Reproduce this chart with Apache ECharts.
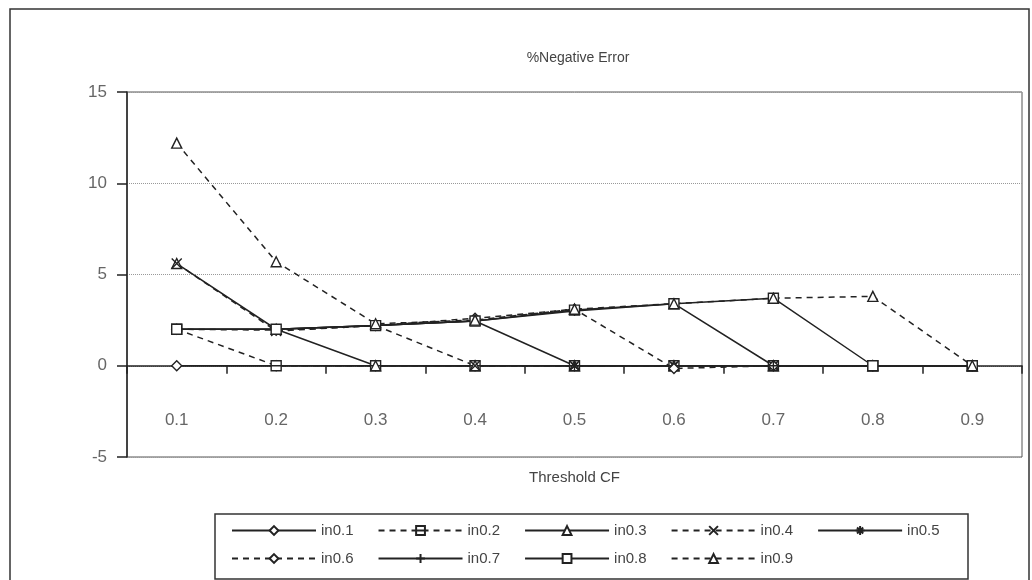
<!DOCTYPE html>
<html>
<head>
<meta charset="utf-8">
<style>
  html, body { margin: 0; padding: 0; background: #fff; }
  #chart { width: 1032px; height: 580px; }
</style>
<script src="https://cdn.jsdelivr.net/npm/echarts@6/dist/echarts.min.js"></script>
</head>
<body>
<div id="chart"></div>
<script>
// ---- data ----
const categories = ['0.1', '0.2', '0.3', '0.4', '0.5', '0.6', '0.7', '0.8', '0.9'];
const seriesNames = ['in0.1', 'in0.2', 'in0.3', 'in0.4', 'in0.5', 'in0.6', 'in0.7', 'in0.8', 'in0.9'];
const in01 = [0, 0, 0, 0, 0, 0, 0, 0, 0];
const in02 = [2.0, 0, 0, 0, 0, 0, 0, 0, 0];
const in03 = [5.6, 2.0, 0, 0, 0, 0, 0, 0, 0];
const in04 = [5.6, 1.9, 2.2, 0, 0, 0, 0, 0, 0];
const in05 = [2.0, 2.0, 2.2, 2.45, 0, 0, 0, 0, 0];
const in06 = [2.0, 1.95, 2.2, 2.6, 3.1, -0.15, 0, 0, 0];
const in07 = [2.0, 2.0, 2.2, 2.45, 3.0, 3.4, 0, 0, 0];
const in08 = [2.0, 2.0, 2.2, 2.45, 3.05, 3.4, 3.7, 0, 0];
const in09 = [12.2, 5.7, 2.3, 2.5, 3.1, 3.4, 3.7, 3.8, 0];
const yTicks = { min: -5, max: 15, interval: 5 };
const titleText = '%Negative Error';
const xAxisName = 'Threshold CF';

const seriesValues = [in01, in02, in03, in04, in05, in06, in07, in08, in09];

// ---- styles ----
const ink = '#222';
const SYM = {
  diamond: 'diamond',
  boxLine: 'path://M0,0 L10,0 L10,10 L0,10 Z M0,5 L10,5',
  triangle: 'triangle',
  cross: 'path://M0,0 L10,10 M10,0 L0,10',
  star: 'path://M5,0 L5,10 M0,5 L10,5 M1.5,1.5 L8.5,8.5 M8.5,1.5 L1.5,8.5',
  plus: 'path://M5,0 L5,10 M4.9,5 L5.1,5',
  rect: 'rect'
};
const seriesStyle = [
  { sym: SYM.diamond, dash: 'solid' },
  { sym: SYM.boxLine, dash: 'dashed' },
  { sym: SYM.triangle, dash: 'solid' },
  { sym: SYM.cross, dash: 'dashed' },
  { sym: SYM.star, dash: 'solid' },
  { sym: SYM.diamond, dash: 'dashed' },
  { sym: SYM.plus, dash: 'solid' },
  { sym: SYM.rect, dash: 'solid' },
  { sym: SYM.triangle, dash: 'dashed' }
];

const series = seriesNames.map((name, i) => ({
  name: name,
  type: 'line',
  xAxisIndex: 0,
  data: seriesValues[i],
  symbol: seriesStyle[i].sym,
  symbolSize: 10,
  showAllSymbol: true,
  lineStyle: {
    color: ink,
    width: 1.5,
    type: seriesStyle[i].dash === 'dashed' ? [6, 5] : 'solid'
  },
  itemStyle: { color: '#fff', borderColor: ink, borderWidth: 1.4 },
  emphasis: { disabled: true },
  z: 3
}));

const font = "'Liberation Sans', Arial, sans-serif";
const legendCommon = {
  orient: 'horizontal',
  itemWidth: 84,
  itemHeight: 11,
  itemGap: 24,
  padding: 0,
  left: 231,
  selectedMode: false,
  textStyle: { color: '#444', fontSize: 15, fontFamily: font }
};

const chart = echarts.init(document.getElementById('chart'), null, { renderer: 'canvas' });
chart.setOption({
  animation: false,
  backgroundColor: '#fff',
  grid: { left: 127, right: 10, top: 92, bottom: 123, show: true, borderColor: '#555', borderWidth: 1, backgroundColor: 'transparent' },
  xAxis: [
    {
      // axis line and ticks at zero
      type: 'category',
      data: categories,
      boundaryGap: true,
      axisLine: { onZero: true, lineStyle: { color: ink, width: 1.5 } },
      axisTick: { show: true, length: 8, lineStyle: { color: ink, width: 1.5 } },
      axisLabel: { show: false },
      splitLine: { show: false }
    },
    {
      // category labels and axis title
      type: 'category',
      data: categories,
      boundaryGap: true,
      position: 'bottom',
      name: xAxisName,
      nameLocation: 'middle',
      nameGap: 13,
      nameTextStyle: { color: '#444', fontSize: 15, fontFamily: font },
      axisLine: { show: false, onZero: false },
      axisTick: { show: false },
      axisLabel: { inside: true, color: '#666', fontSize: 17, fontFamily: font, margin: 28 },
      splitLine: { show: false }
    }
  ],
  yAxis: {
    type: 'value',
    min: yTicks.min,
    max: yTicks.max,
    interval: yTicks.interval,
    axisLine: { show: true, lineStyle: { color: ink, width: 1.5 } },
    axisTick: { show: true, length: 10, lineStyle: { color: ink, width: 1.5 } },
    axisLabel: { color: '#666', fontSize: 17, fontFamily: font, margin: 20 },
    splitLine: { show: true, lineStyle: { color: '#999', type: 'dotted', width: 1 } }
  },
  legend: [
    Object.assign({ top: 523, data: seriesNames.slice(0, 5) }, legendCommon),
    Object.assign({ top: 551, data: seriesNames.slice(5) }, legendCommon)
  ],
  graphic: [
    { type: 'rect', shape: { x: 10, y: 9, width: 1019, height: 620 }, style: { fill: 'none', stroke: '#333', lineWidth: 1.5 }, silent: true, z: -1 },
    { type: 'rect', shape: { x: 215, y: 514, width: 753, height: 65 }, style: { fill: 'none', stroke: '#333', lineWidth: 1.5 }, silent: true },
    { type: 'text', x: 578, y: 58, style: { text: titleText, fill: '#444', font: '14px ' + font, textAlign: 'center', textVerticalAlign: 'middle' }, silent: true }
  ],
  series: series
});
</script>
</body>
</html>
